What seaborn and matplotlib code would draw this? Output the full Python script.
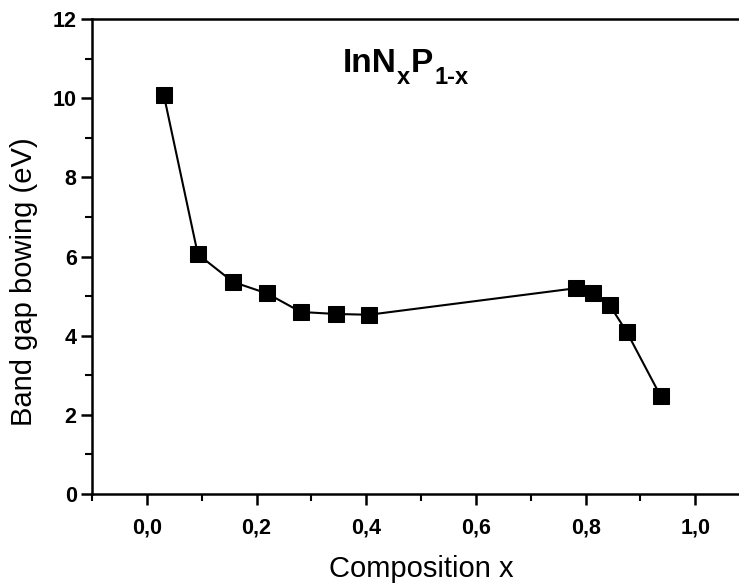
import numpy as np
import pandas as pd
import seaborn as sns
import matplotlib.pyplot as plt
from matplotlib.ticker import MultipleLocator

# values
composition = [0.031, 0.093, 0.157, 0.219, 0.281, 0.345, 0.405,
               0.782, 0.813, 0.844, 0.875, 0.937]
bowing = [10.08, 6.06, 5.36, 5.07, 4.60, 4.55, 4.53,
          5.20, 5.08, 4.77, 4.10, 2.47]

x_ticks = [0.0, 0.2, 0.4, 0.6, 0.8, 1.0]
x_tick_labels = ["0,0", "0,2", "0,4", "0,6", "0,8", "1,0"]
y_ticks = [0, 2, 4, 6, 8, 10, 12]

# title pieces: (text, is_subscript)
title_parts = [("InN", False), ("x", True), ("P", False), ("1-x", True)]

df = pd.DataFrame({"x": composition, "b": bowing})

sns.set_style("ticks")
plt.rcParams["font.family"] = ["Liberation Sans", "DejaVu Sans"]
for key in ["text.color", "axes.labelcolor", "xtick.color", "ytick.color"]:
    plt.rcParams[key] = "black"

fig = plt.figure(figsize=(7.39, 5.83), dpi=100)
# right edge sits just past the picture, like the cropped original
ax = fig.add_axes([0.1245, 0.1527, 0.8905, 0.8143])

sns.lineplot(data=df, x="x", y="b", ax=ax, color="black", linewidth=1.5,
             marker="s", markersize=11, markeredgecolor="black", sort=False)

ax.set_xlim(-0.1, 1.1)
ax.set_ylim(0, 12)
ax.set_xticks(x_ticks)
ax.set_xticklabels(x_tick_labels)
ax.set_yticks(y_ticks)
ax.xaxis.set_minor_locator(MultipleLocator(0.1))
ax.yaxis.set_minor_locator(MultipleLocator(1))

for side in ["left", "bottom", "top", "right"]:
    ax.spines[side].set_linewidth(1.8)
    ax.spines[side].set_color("black")

ax.tick_params(which="major", direction="out", length=8, width=1.8,
               labelsize=15.5)
ax.tick_params(axis="x", which="major", pad=9)
ax.tick_params(axis="y", which="major", pad=3)
ax.tick_params(which="minor", direction="out", length=5, width=1.5)
for lab in ax.get_xticklabels() + ax.get_yticklabels():
    lab.set_fontweight("bold")

ax.set_xlabel("Composition x", fontsize=21, labelpad=12)
ax.set_ylabel("Band gap bowing (eV)", fontsize=21)
ax.yaxis.set_label_coords(-0.082, 0.448)

# title built piece by piece so the subscripts can sit low and large
base_y = 0.888
prev = None
for txt, sub in title_parts:
    size = 17 if sub else 24
    dy = -8.4 if sub else 0
    if prev is None:
        prev = ax.text(0.381, base_y, txt, transform=ax.transAxes,
                       fontsize=size, fontweight="bold", va="baseline")
    else:
        prev = ax.annotate(txt, xy=(1, base_y), xycoords=(prev, "axes fraction"),
                           xytext=(0.5, dy), textcoords="offset points",
                           fontsize=size, fontweight="bold", va="baseline")

fig.savefig("out.png", dpi=100)
